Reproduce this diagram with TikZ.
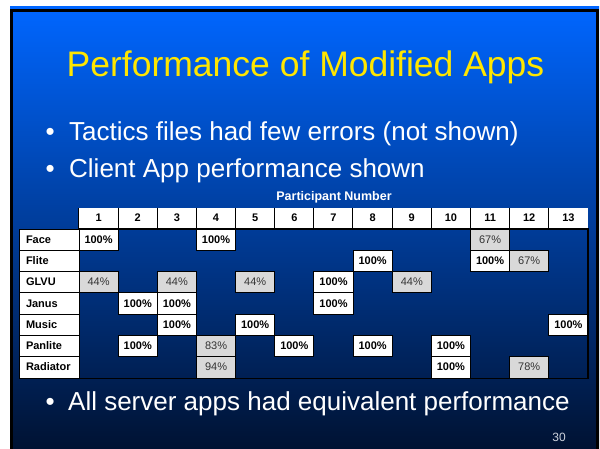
\documentclass[tikz,border=0pt]{standalone}
\usepackage{fontspec}
\setmainfont{Liberation Sans}

\definecolor{titleyellow}{RGB}{255,230,0}
\definecolor{slidetop}{RGB}{0,102,255}
\definecolor{slidemid}{RGB}{0,72,196}
\definecolor{slidebot}{RGB}{0,18,50}
\definecolor{cellgrey}{RGB}{217,217,217}
\definecolor{pagegrey}{RGB}{205,210,220}

\tikzset{
  slidetitle/.style={anchor=base, text=titleyellow, font=\fontsize{35.5}{40}\selectfont},
  bodytext/.style={anchor=base west, text=white, inner sep=0, font=\fontsize{26}{30}\selectfont},
  bulletmark/.style={anchor=base west, text=white, inner sep=0, font=\fontsize{26}{30}\selectfont},
  axislabel/.style={anchor=base, text=white, inner sep=0, font=\bfseries\fontsize{12.5}{14}\selectfont},
  tablecell/.style={rectangle, inner sep=0, minimum width=39.15pt, minimum height=21.29pt,
    text height=8.5pt, text depth=1.5pt, font=\fontsize{11}{13}\selectfont},
  headcell/.style={tablecell, fill=white, minimum height=21pt, font=\bfseries\fontsize{11}{13}\selectfont},
  rowcell/.style={tablecell, draw=black, line width=0.9pt, fill=white, minimum width=59.5pt,
    text width=46.5pt, inner xsep=6.5pt, align=left, font=\bfseries\fontsize{11}{13}\selectfont},
  cellw/.style={tablecell, draw=black, line width=0.9pt, fill=white, font=\bfseries\fontsize{11}{13}\selectfont},
  cellg/.style={tablecell, draw=black, line width=0.9pt, fill=cellgrey, text=black!80},
  pagenum/.style={anchor=base east, text=pagegrey, inner sep=0, font=\fontsize{12}{14}\selectfont}
}

\begin{document}
\begin{tikzpicture}[x=1pt,y=-1pt]
\useasboundingbox (0,0) rectangle (600,449);
\fill[white] (0,0) rectangle (600,449);

% slide background and frame
\shade[top color=slidetop, middle color=slidemid, bottom color=slidebot] (10,7) rectangle (599,449);
\draw[line width=3pt] (11.5,449) -- (11.5,10.5) -- (597,10.5) -- (597,449);

% title
\node[slidetitle] (title) at (305.5,76.5) {Performance of Modified Apps};

% bullet points
\node[bulletmark] (m1) at (45.5,140.5) {•};
\node[bodytext] (t1) at (69,140.5) {Tactics files had few errors (not shown)};
\node[bulletmark] (m2) at (45.5,177.5) {•};
\node[bodytext] (t2) at (69,177.5) {Client App performance shown};
\node[bulletmark] (m3) at (45.5,410.5) {•};
\node[bodytext] (t3) at (68,410.5) {All server apps had equivalent performance};

% table: column header
\node[axislabel] (axis) at (334,200.5) {Participant Number};
\foreach \c in {1,...,13}
  \node[headcell] (h\c) at ({79+39.15*(\c-0.5)},218.5) {\c};
\foreach \c in {1,...,13}
  \draw[line width=0.9pt] (h\c.north west) -- (h\c.south west);

% table: row labels
\foreach \r/\name in {1/Face,2/Flite,3/GLVU,4/Janus,5/Music,6/Panlite,7/Radiator}
  \node[rowcell] (lab\r) at (49.25,{229+21.29*(\r-0.5)}) {\name};

% table: results per participant
\foreach \r/\c/\v/\k in {
  1/1/100/w, 1/4/100/w, 1/11/67/g,
  2/8/100/w, 2/11/100/w, 2/12/67/g,
  3/1/44/g, 3/3/44/g, 3/5/44/g, 3/7/100/w, 3/9/44/g,
  4/2/100/w, 4/3/100/w, 4/7/100/w,
  5/3/100/w, 5/5/100/w, 5/13/100/w,
  6/2/100/w, 6/4/83/g, 6/6/100/w, 6/8/100/w, 6/10/100/w,
  7/4/94/g, 7/10/100/w, 7/12/78/g}
  \node[cell\k] (c\r-\c) at ({79+39.15*(\c-0.5)},{229+21.29*(\r-0.5)}) {\v\%};

% frame round the result area
\draw[line width=1.6pt] (h1.south west) -- (h13.south east) -- (h13.south east |- lab7.south)
  -- (lab7.south west);

% page number
\node[pagenum] (page) at (566,441) {30};
\end{tikzpicture}
\end{document}
